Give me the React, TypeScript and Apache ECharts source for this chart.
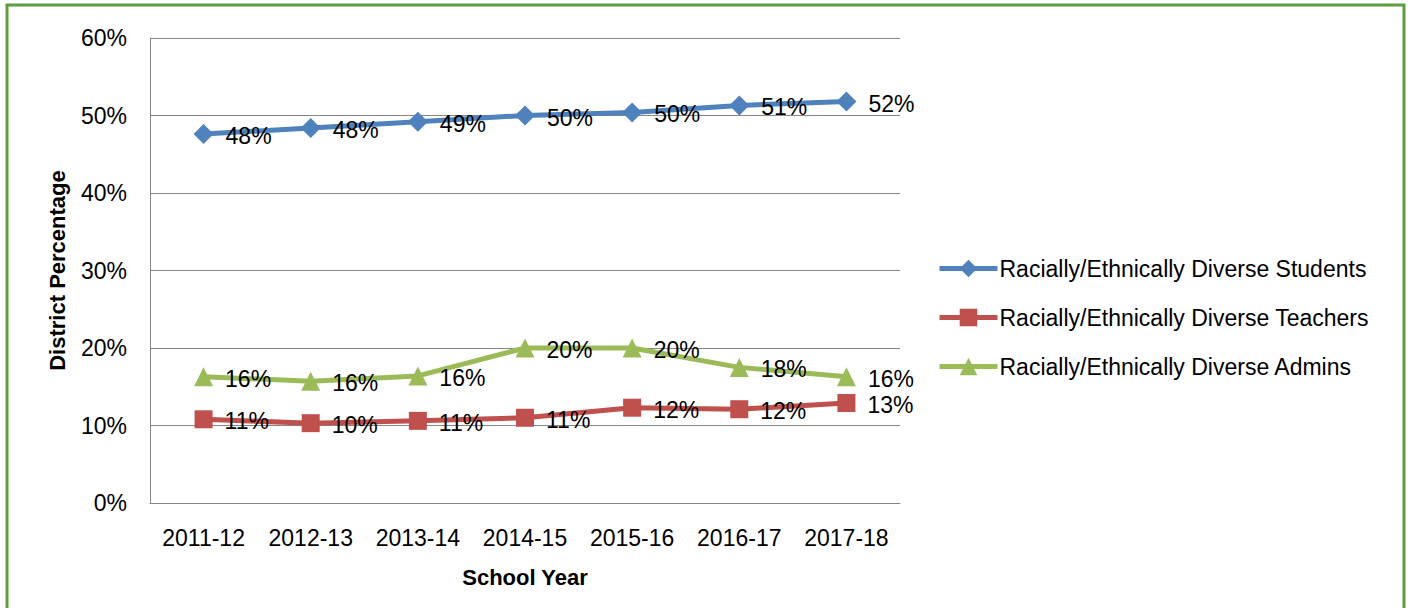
import React, { useEffect, useRef } from "react";
import * as echarts from "echarts";

const categories = ["2011-12", "2012-13", "2013-14", "2014-15", "2015-16", "2016-17", "2017-18"];
const students = [47.6, 48.4, 49.2, 50.0, 50.4, 51.3, 51.8];
const teachers = [10.8, 10.3, 10.6, 11.0, 12.3, 12.1, 12.9];
const admins = [16.3, 15.7, 16.4, 20.0, 20.0, 17.5, 16.3];
const studentLabels = ["48%", "48%", "49%", "50%", "50%", "51%", "52%"];
const teacherLabels = ["11%", "10%", "11%", "11%", "12%", "12%", "13%"];
const adminLabels = ["16%", "16%", "16%", "20%", "20%", "18%", "16%"];
const seriesNames = [
  "Racially/Ethnically Diverse Students",
  "Racially/Ethnically Diverse Teachers",
  "Racially/Ethnically Diverse Admins",
];

const FONT = "'Liberation Sans', Arial, sans-serif";

export default function App() {
  const ref = useRef<HTMLDivElement>(null);
  useEffect(() => {
    if (!ref.current) return;
    const chart = echarts.init(ref.current, null, { renderer: "svg" });
    const mk = (name: string, data: number[], labels: string[], color: string, symbol: string, size: number) => ({
      name,
      type: "line",
      data,
      symbol,
      symbolSize: size,
      itemStyle: { color },
      lineStyle: { color, width: 5 },
      label: {
        show: true,
        position: "right",
        distance: 12,
        offset: [0, 2],
        color: "#000",
        fontSize: 23,
        fontFamily: FONT,
        formatter: (p: any) => labels[p.dataIndex],
      },
    });
    chart.setOption({
      animation: false,
      textStyle: { fontFamily: FONT },
      graphic: [
        {
          type: "rect",
          shape: { x: 7, y: 5, width: 1397, height: 620 },
          style: { fill: "none", stroke: "#5e9c40", lineWidth: 3 },
        },
      ],
      grid: { left: 150, right: 512, top: 38, bottom: 105 },
      legend: {
        orient: "vertical",
        left: 937,
        top: 257,
        padding: 0,
        itemWidth: 58,
        itemHeight: 22,
        itemGap: 26,
        lineStyle: { width: 5 },
        textStyle: { fontSize: 23, color: "#000", fontFamily: FONT, padding: [0, 0, 0, -3] },
        data: seriesNames,
      },
      xAxis: {
        type: "category",
        data: categories,
        boundaryGap: true,
        axisLine: { lineStyle: { color: "#868686", width: 1 } },
        axisTick: { show: false },
        axisLabel: { color: "#000", fontSize: 23, margin: 23, fontFamily: FONT, interval: 0, hideOverlap: false },
        name: "School Year",
        nameLocation: "middle",
        nameGap: 63,
        nameTextStyle: { fontSize: 22, fontWeight: "bold", color: "#000", fontFamily: FONT },
      },
      yAxis: {
        type: "value",
        min: 0,
        max: 60,
        interval: 10,
        axisLine: { show: true, lineStyle: { color: "#868686", width: 1 } },
        axisTick: { show: false },
        splitLine: { lineStyle: { color: "#868686", width: 1 } },
        axisLabel: { color: "#000", fontSize: 23, margin: 23, fontFamily: FONT, formatter: "{value}%" },
        name: "District Percentage",
        nameLocation: "middle",
        nameGap: 82,
        nameTextStyle: { fontSize: 22, fontWeight: "bold", color: "#000", fontFamily: FONT },
      },
      series: [
        mk(seriesNames[0], students, studentLabels, "#4f81bd", "diamond", 20),
        mk(seriesNames[1], teachers, teacherLabels, "#c0504d", "rect", 18),
        mk(seriesNames[2], admins, adminLabels, "#9bbb59", "triangle", 19),
      ],
    });
    return () => chart.dispose();
  }, []);
  return (
    <div
      ref={ref}
      style={{ position: "fixed", left: 0, top: 0, width: 1412, height: 608, background: "#fff" }}
    />
  );
}
